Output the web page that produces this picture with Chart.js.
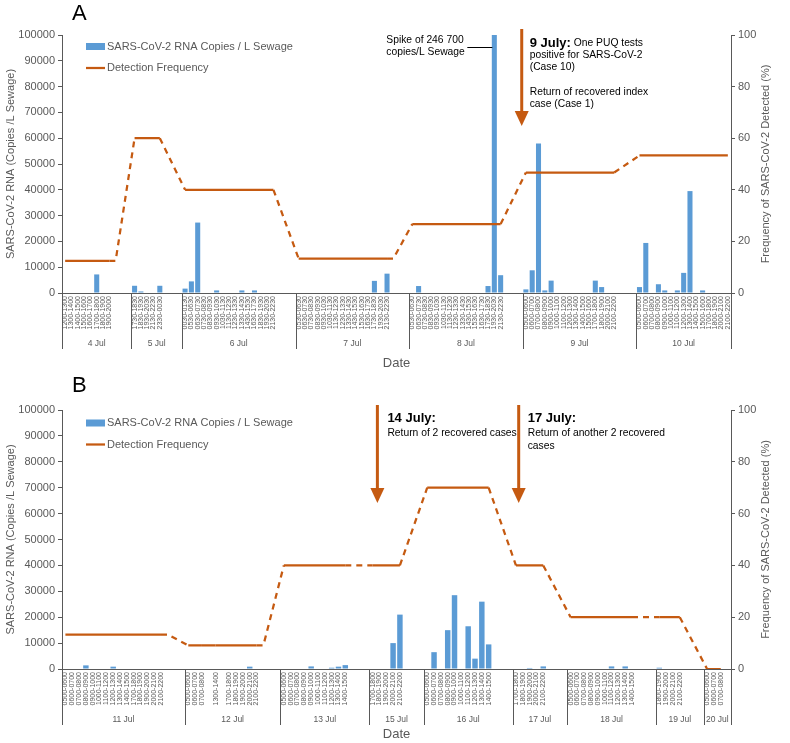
<!DOCTYPE html>
<html lang="en">
<head>
<meta charset="UTF-8">
<title>SARS-CoV-2 RNA in sewage</title>
<script src="https://cdn.jsdelivr.net/npm/chart.js@4"></script>
<style>
  body { margin: 0; background: #fff; }
  .panel { position: absolute; left: 0; width: 790px; }
  #panelA { top: 0; height: 372px; }
  #panelB { top: 372px; height: 371px; }
</style>
</head>
<body>
<div class="panel" id="panelA"><canvas id="chartA"></canvas></div>
<div class="panel" id="panelB"><canvas id="chartB"></canvas></div>
<script>
// ---------- panel A: 4 - 10 July ----------
const daysA = ['4 Jul', '5 Jul', '6 Jul', '7 Jul', '8 Jul', '9 Jul', '10 Jul'];
const slotsA = [11, 8, 18, 18, 18, 18, 15];
const timesA = [
  '1200-1300', '1300-1400', '1400-1500', '1500-1600', '1600-1700', '1700-1800', '1800-1900', '1900-2000', '', '', '',
  '1730-1830', '1830-1930', '1930-2030', '2130-2230', '2330-0030', '', '', '',
  '0030-0130', '0530-0630', '0630-0730', '0730-0830', '0830-0930', '0930-1030', '1030-1130', '1130-1230', '1230-1330', '1330-1430', '1430-1530', '1630-1730', '1830-1930', '1930-2030', '2130-2230', '', '', '',
  '0530-0630', '0630-0730', '0730-0830', '0830-0930', '0930-1030', '1030-1130', '1130-1230', '1230-1330', '1330-1430', '1430-1530', '1530-1630', '1630-1730', '1730-1830', '1930-2030', '2130-2230', '', '', '',
  '0530-0630', '0630-0730', '0730-0830', '0830-0930', '0930-1030', '1030-1130', '1130-1230', '1230-1330', '1330-1430', '1430-1530', '1530-1630', '1630-1730', '1730-1830', '1930-2030', '2130-2230', '', '', '',
  '0500-0600', '0600-0700', '0700-0800', '0800-0900', '0900-1000', '1000-1100', '1100-1200', '1200-1300', '1300-1400', '1400-1500', '1500-1600', '1700-1800', '1800-1900', '2000-2100', '2100-2200', '', '', '',
  '0500-0600', '0600-0700', '0700-0800', '0800-0900', '0900-1000', '1000-1100', '1100-1200', '1200-1300', '1300-1400', '1400-1500', '1500-1600', '1700-1800', '1800-1900', '2000-2100', '2100-2200'
];
const rnaA = [
  null, null, null, null, null, 7200, null, null, null, null, null,
  2800, 600, null, null, 2800, null, null, null,
  1700, 4500, 27300, null, null, 1000, null, null, null, 1000, null, 1000, null, null, null, null, null, null,
  null, null, null, null, null, null, null, null, null, null, null, null, 4700, null, 7500, null, null, null,
  null, 2700, null, null, null, null, null, null, null, null, null, null, 2700, 246700, 6900, null, null, null,
  1400, 8800, 57900, 1000, 4800, null, null, null, null, null, null, 4800, 2300, null, null, null, null, null,
  2300, 19400, null, 3400, 1000, null, 1000, 7800, 39500, null, 1000, null, null, null, null
];
const detectA = [
  12.5, 12.5, 12.5, 12.5, 12.5, 12.5, 12.5, 12.5, 12.5, null, null,
  60, 60, 60, 60, 60, null, null, null,
  40, 40, 40, 40, 40, 40, 40, 40, 40, 40, 40, 40, 40, 40, 40, null, null, null,
  13.3, 13.3, 13.3, 13.3, 13.3, 13.3, 13.3, 13.3, 13.3, 13.3, 13.3, 13.3, 13.3, 13.3, 13.3, 13.3, null, null,
  26.7, 26.7, 26.7, 26.7, 26.7, 26.7, 26.7, 26.7, 26.7, 26.7, 26.7, 26.7, 26.7, 26.7, 26.7, null, null, null,
  46.7, 46.7, 46.7, 46.7, 46.7, 46.7, 46.7, 46.7, 46.7, 46.7, 46.7, 46.7, 46.7, 46.7, 46.7, null, null, null,
  53.3, 53.3, 53.3, 53.3, 53.3, 53.3, 53.3, 53.3, 53.3, 53.3, 53.3, 53.3, 53.3, 53.3, 53.3
];

// ---------- panel B: 11 - 20 July ----------
const daysB = ['11 Jul', '12 Jul', '13 Jul', '15 Jul', '16 Jul', '17 Jul', '18 Jul', '19 Jul', '20 Jul'];
const slotsB = [18, 14, 13, 8, 13, 8, 13, 7, 4];
const timesB = [
  '0500-0600', '0600-0700', '0700-0800', '0800-0900', '0900-1000', '1000-1100', '1100-1200', '1200-1300', '1300-1400', '1400-1500', '1700-1800', '1800-1900', '1900-2000', '2000-2100', '2100-2200', '', '', '',
  '0500-0600', '0600-0700', '0700-0800', '', '1300-1400', '', '1700-1800', '1800-1900', '1900-2000', '2000-2100', '2100-2200', '', '', '',
  '0500-0600', '0600-0700', '0700-0800', '0800-0900', '0900-1000', '1000-1100', '1100-1200', '1200-1300', '1300-1400', '1400-1500', '', '', '',
  '1700-1800', '1800-1900', '1900-2000', '2000-2100', '2100-2200', '', '', '',
  '0500-0600', '0600-0700', '0700-0800', '0800-0900', '0900-1000', '1000-1100', '1100-1200', '1200-1300', '1300-1400', '1400-1500', '', '', '',
  '1700-1800', '1800-1900', '1900-2000', '2000-2100', '2100-2200', '', '', '',
  '0500-0600', '0600-0700', '0700-0800', '0800-0900', '0900-1000', '1000-1100', '1100-1200', '1200-1300', '1300-1400', '1400-1500', '', '', '',
  '1800-1900', '1900-2000', '2000-2100', '2100-2200', '', '', '',
  '0500-0600', '0600-0700', '0700-0800', ''
];
const rnaB = [
  null, null, null, 1400, null, null, null, 900, null, null, null, null, null, null, null, null, null, null,
  null, null, null, null, null, null, null, null, null, 900, null, null, null, null,
  null, null, null, null, 1000, null, null, 500, 900, 1500, null, null, null,
  null, null, null, 10000, 21000, null, null, null,
  null, 6500, null, 15000, 28500, null, 16500, 4000, 26000, 9500, null, null, null,
  null, null, 400, null, 1000, null, null, null,
  null, null, null, null, null, null, 1000, null, 1000, null, null, null, null,
  500, null, null, null, null, null, null,
  null, null, null, null
];
const detectB = [
  13.3, 13.3, 13.3, 13.3, 13.3, 13.3, 13.3, 13.3, 13.3, 13.3, 13.3, 13.3, 13.3, 13.3, 13.3, 13.3, null, null,
  9.1, 9.1, 9.1, null, 9.1, null, 9.1, 9.1, 9.1, 9.1, 9.1, 9.1, null, null,
  40, 40, 40, 40, 40, 40, 40, 40, 40, 40, null, null, null,
  40, 40, 40, 40, 40, null, null, null,
  70, 70, 70, 70, 70, 70, 70, 70, 70, 70, null, null, null,
  40, 40, 40, 40, 40, null, null, null,
  20, 20, 20, 20, 20, 20, 20, 20, 20, 20, null, null, null,
  20, 20, 20, 20, null, null, null,
  0, 0, 0, null
];

const BLUE = '#5B9BD5';
const ORANGE = '#C55A11';
const GREY = '#595959';
const FONT = '"Liberation Sans", Arial, sans-serif';
Chart.defaults.font.family = FONT;
Chart.defaults.color = GREY;

function txt(ctx, s, x, y, size, bold, color, align) {
  ctx.font = (bold ? 'bold ' : '') + size + 'px ' + FONT;
  ctx.fillStyle = color || '#000';
  ctx.textAlign = align || 'left';
  ctx.textBaseline = 'middle';
  ctx.fillText(s, x, y);
  return ctx.measureText(s).width;
}

function arrow(ctx, x, y0, y1) {
  ctx.strokeStyle = ORANGE;
  ctx.fillStyle = ORANGE;
  ctx.lineWidth = 3;
  ctx.beginPath();
  ctx.moveTo(x, y0);
  ctx.lineTo(x, y1 - 12);
  ctx.stroke();
  ctx.beginPath();
  ctx.moveTo(x - 7, y1 - 15);
  ctx.lineTo(x + 7, y1 - 15);
  ctx.lineTo(x, y1);
  ctx.closePath();
  ctx.fill();
}

// letter, legend, grouped date axis and right title
function panelPlugin(letter, days, slots, legendTop, notes) {
  return {
    id: 'panel' + letter,
    afterDraw(chart) {
      const { ctx, chartArea: a, scales: { x } } = chart;
      ctx.save();
      txt(ctx, letter, 72, 14, 22, false, '#000');

      // legend
      const ly = a.top + legendTop;
      ctx.fillStyle = BLUE;
      ctx.fillRect(a.left + 24, ly - 3.5, 19, 7);
      txt(ctx, 'SARS-CoV-2 RNA Copies / L Sewage', a.left + 45, ly, 11, false, GREY);
      ctx.strokeStyle = ORANGE;
      ctx.lineWidth = 2.25;
      ctx.beginPath();
      ctx.moveTo(a.left + 24, ly + 21.5);
      ctx.lineTo(a.left + 43, ly + 21.5);
      ctx.stroke();
      txt(ctx, 'Detection Frequency', a.left + 45, ly + 21.5, 11, false, GREY);

      // day groups under the time labels
      ctx.strokeStyle = GREY;
      ctx.lineWidth = 1;
      let start = 0;
      days.forEach((d, i) => {
        const x0 = x.getPixelForValue(start - 0.5);
        ctx.beginPath();
        ctx.moveTo(Math.round(x0) + 0.5, a.bottom);
        ctx.lineTo(Math.round(x0) + 0.5, a.bottom + 56);
        ctx.stroke();
        txt(ctx, d, x.getPixelForValue(start + slots[i] / 2 - 0.5), a.bottom + 51, 8.5, false, GREY, 'center');
        start += slots[i];
      });
      const xe = x.getPixelForValue(start - 0.5);
      ctx.beginPath();
      ctx.moveTo(Math.round(xe) + 0.5, a.bottom);
      ctx.lineTo(Math.round(xe) + 0.5, a.bottom + 56);
      ctx.stroke();

      // right axis title
      ctx.save();
      ctx.translate(766, (a.top + a.bottom) / 2);
      ctx.rotate(-Math.PI / 2);
      txt(ctx, 'Frequency of SARS-CoV-2 Detected (%)', 0, 0, 11, false, GREY, 'center');
      ctx.restore();

      notes(chart);
      ctx.restore();
    }
  };
}

function notesA(chart) {
  const { ctx, chartArea: a, scales: { x } } = chart;
  // spike label next to the clipped 8 Jul bar
  const bx = x.getPixelForValue(68);
  txt(ctx, 'Spike of 246 700', bx - 108, a.top + 5, 10.3);
  txt(ctx, 'copies/L Sewage', bx - 108, a.top + 17, 10.3);
  ctx.strokeStyle = '#000';
  ctx.lineWidth = 1;
  ctx.beginPath();
  ctx.moveTo(bx - 27, a.top + 12.5);
  ctx.lineTo(bx - 2, a.top + 12.5);
  ctx.stroke();
  // 9 July arrow
  const ax = x.getPixelForValue(72.5) - 1;
  arrow(ctx, ax, a.top - 6, a.top + 91);
  const tx = ax + 8;
  const w = txt(ctx, '9 July:', tx, a.top + 8, 13, true);
  txt(ctx, ' One PUQ tests', tx + w, a.top + 8.5, 10.3);
  txt(ctx, 'positive for SARS-CoV-2', tx, a.top + 20.5, 10.3);
  txt(ctx, '(Case 10)', tx, a.top + 32.5, 10.3);
  txt(ctx, 'Return of recovered index', tx, a.top + 57, 10.3);
  txt(ctx, 'case (Case 1)', tx, a.top + 69.5, 10.3);
}

function notesB(chart) {
  const { ctx, chartArea: a, scales: { x } } = chart;
  const x1 = x.getPixelForValue(45.7);
  arrow(ctx, x1, a.top - 5, a.top + 93);
  txt(ctx, '14 July:', x1 + 10, a.top + 8, 13, true);
  txt(ctx, 'Return of 2 recovered cases', x1 + 10, a.top + 23, 10.3);
  const x2 = x.getPixelForValue(66.4);
  arrow(ctx, x2, a.top - 5, a.top + 93);
  txt(ctx, '17 July:', x2 + 9, a.top + 8, 13, true);
  txt(ctx, 'Return of another 2 recovered', x2 + 9, a.top + 23, 10.3);
  txt(ctx, 'cases', x2 + 9, a.top + 36, 10.3);
}

function dayIndex(slots) {
  const out = [];
  slots.forEach((n, d) => { for (let i = 0; i < n; i++) out.push(d); });
  return out;
}

function makeChart(id, letter, times, rna, detect, days, slots, top, xHeight, legendTop, notes) {
  const day = dayIndex(slots);
  return new Chart(document.getElementById(id), {
    type: 'bar',
    data: {
      labels: times,
      datasets: [
        {
          type: 'line',
          label: 'Detection Frequency',
          data: detect,
          yAxisID: 'y1',
          borderColor: ORANGE,
          borderWidth: 2.25,
          pointRadius: 0,
          spanGaps: true,
          order: 1,
          segment: {
            borderDash: c => (times[c.p1DataIndex] === '' || day[c.p0DataIndex] !== day[c.p1DataIndex]) ? [6, 5] : undefined
          }
        },
        {
          type: 'bar',
          label: 'SARS-CoV-2 RNA Copies / L Sewage',
          data: rna,
          yAxisID: 'y',
          backgroundColor: BLUE,
          barPercentage: 0.8,
          categoryPercentage: 1,
          clip: 0,
          order: 2
        }
      ]
    },
    options: {
      responsive: true,
      maintainAspectRatio: false,
      animation: false,
      layout: { padding: { top: top } },
      plugins: { legend: { display: false }, tooltip: { enabled: false } },
      scales: {
        x: {
          grid: { display: false, drawTicks: false },
          border: { color: GREY },
          ticks: { autoSkip: false, minRotation: 90, maxRotation: 90, padding: 3, font: { size: 7 } },
          title: { display: true, text: 'Date', font: { size: 13 }, padding: { top: 0, bottom: 1 } },
          afterFit: s => { s.height = xHeight; }
        },
        y: {
          position: 'left',
          min: 0,
          max: 100000,
          ticks: { stepSize: 10000, font: { size: 11 }, callback: v => String(v) },
          grid: { drawOnChartArea: false, tickLength: 4, color: GREY },
          border: { color: GREY },
          title: { display: true, text: 'SARS-CoV-2 RNA (Copies /L Sewage)', font: { size: 11 }, padding: { top: 4, bottom: 0 } },
          afterFit: s => { s.width = 62; }
        },
        y1: {
          position: 'right',
          min: 0,
          max: 100,
          ticks: { stepSize: 20, font: { size: 11 } },
          grid: { drawOnChartArea: false, tickLength: 4, color: GREY },
          border: { color: GREY },
          afterFit: s => { s.width = 59; }
        }
      }
    },
    plugins: [panelPlugin(letter, days, slots, legendTop, notes)]
  });
}

makeChart('chartA', 'A', timesA, rnaA, detectA, daysA, slotsA, 35, 79, 11.5, notesA);
makeChart('chartB', 'B', timesB, rnaB, detectB, daysB, slotsB, 38, 74, 13, notesB);
</script>
</body>
</html>
